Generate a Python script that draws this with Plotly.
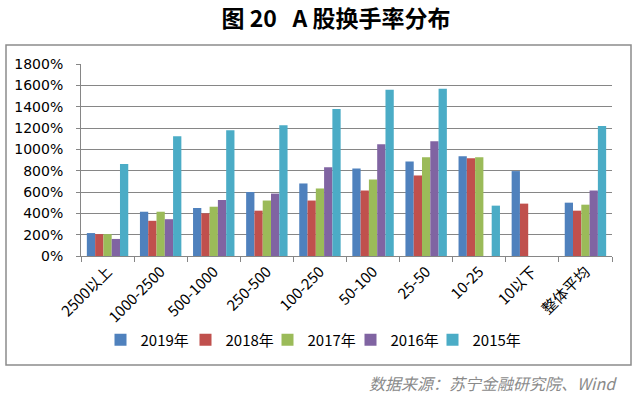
import plotly.graph_objects as go

categories = ["2500以上", "1000-2500", "500-1000", "250-500", "100-250",
              "50-100", "25-50", "10-25", "10以下", "整体平均"]
series_names = ["2019年", "2018年", "2017年", "2016年", "2015年"]
v2019 = [215, 415, 450, 600, 680, 820, 887, 935, 796, 500]
v2018 = [205, 330, 400, 425, 520, 614, 755, 916, 491, 425]
v2017 = [205, 415, 462, 520, 633, 717, 925, 925, None, 481]
v2016 = [160, 345, 525, 585, 831, 1048, 1076, None, None, 614]
v2015 = [862, 1122, 1180, 1226, 1378, 1558, 1567, 472, None, 1218]
y_ticks = [0, 200, 400, 600, 800, 1000, 1200, 1400, 1600, 1800]
y_tick_labels = [f"{t}%" for t in y_ticks]

colors = ["#4F81BD", "#C0504D", "#9BBB59", "#8064A2", "#4BACC6"]
all_values = [v2019, v2018, v2017, v2016, v2015]

W, H = 637, 398
ml, mr, mt, mb = 81, 25, 64, 142
PW, PH = W - ml - mr, H - mt - mb

def px_x(x):
    return (x - ml) / PW

def px_y(y):
    return (H - mb - y) / PH

legend_centers = [126.5, 211.5, 293.5, 376.5, 458.5]
legend_ids = ["legend", "legend2", "legend3", "legend4", "legend5"]

fig = go.Figure()
for name, vals, c, lid in zip(series_names, all_values, colors, legend_ids):
    fig.add_trace(go.Bar(x=categories, y=vals, name=name, marker_color=c,
                         marker_line_width=0, legend=lid))

legend_layout = {}
for lid, cx in zip(legend_ids, legend_centers):
    legend_layout[lid] = dict(
        orientation="h", x=px_x(cx - 26), xanchor="left", y=px_y(340), yanchor="middle",
        font=dict(family="Noto Sans CJK SC", size=15, color="#000"),
        itemwidth=30, bgcolor="rgba(0,0,0,0)")

fig.update_layout(
    width=W, height=H,
    margin=dict(l=ml, r=mr, t=mt, b=mb, pad=0, autoexpand=False),
    paper_bgcolor="white", plot_bgcolor="white",
    barmode="group", bargap=0.22, bargroupgap=0,
    font=dict(family="DejaVu Sans, Noto Sans CJK SC", size=13, color="#000000"),
    showlegend=True,
    xaxis=dict(
        type="category", tickangle=-45, tickson="boundaries", ticks="outside",
        ticklen=5, tickcolor="#868686", showline=True, linecolor="#868686",
        linewidth=1, tickfont=dict(family="Noto Sans CJK SC, DejaVu Sans", size=15, color="#000"),
        showgrid=False, automargin=False,
    ),
    yaxis=dict(
        range=[0, 1800], tickvals=y_ticks, ticktext=y_tick_labels,
        showgrid=True, gridcolor="#868686", gridwidth=1,
        showline=True, linecolor="#868686", linewidth=1,
        ticks="outside", ticklen=4, tickcolor="#868686", ticklabelstandoff=10,
        tickfont=dict(family="DejaVu Sans", size=14, color="#000"),
        zeroline=False, automargin=False,
    ),
    title=dict(text="<b>图 20   A 股换手率分布</b>", x=336 / W, xanchor="center",
               y=1 - 19 / H, yanchor="middle",
               font=dict(family="Noto Sans CJK SC", size=23, color="#000")),
    **legend_layout,
)

# outer frame
fig.add_shape(type="rect", xref="paper", yref="paper",
              x0=px_x(6), x1=px_x(631), y0=px_y(365), y1=px_y(45),
              line=dict(color="#8c8c8c", width=1.5), fillcolor="rgba(0,0,0,0)", layer="below")

fig.add_annotation(text="<i>数据来源：苏宁金融研究院、Wind</i>", xref="paper", yref="paper",
                   x=px_x(619), xanchor="right", y=px_y(383), yanchor="middle",
                   showarrow=False,
                   font=dict(family="Noto Sans CJK SC", size=16, color="#8a8a8a"))

fig.write_html("out.html", config={"displayModeBar": False},
               post_script="document.body.style.margin='0';document.body.style.padding='0';")
